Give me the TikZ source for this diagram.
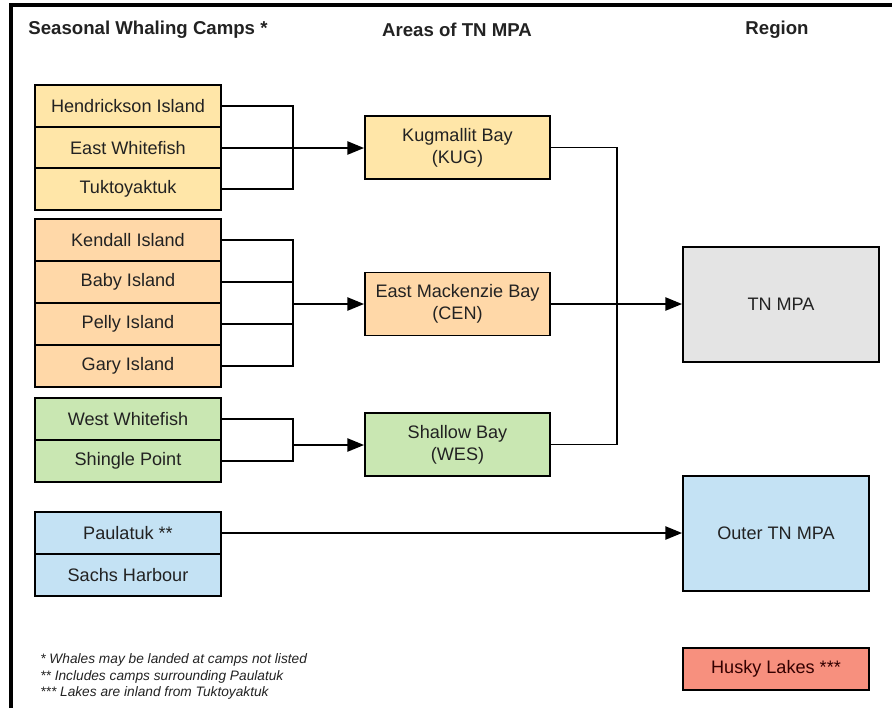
\documentclass[tikz,border=0pt]{standalone}
\usepackage{fontspec}
\setmainfont{Liberation Sans}
\usetikzlibrary{calc,arrows.meta,positioning}
\definecolor{campyel}{HTML}{FFE6A8}
\definecolor{camporg}{HTML}{FFD8A8}
\definecolor{campgrn}{HTML}{C9E7B2}
\definecolor{campblu}{HTML}{C4E2F4}
\definecolor{regngry}{HTML}{E4E4E4}
\definecolor{lakered}{HTML}{F7907E}
\definecolor{inktxt}{HTML}{222222}

\tikzset{
  campbox/.style={draw=black, line width=1.1pt, minimum width=3.72cm, minimum height=0.84cm,
    inner sep=0pt, text=inktxt, font=\fontsize{10.3}{12.4}\selectfont},
  areabox/.style={draw=black, line width=1.1pt, minimum width=3.7cm, minimum height=1.26cm,
    inner sep=0pt, align=center, text=inktxt, font=\fontsize{10.3}{12.4}\selectfont},
  regbox/.style={draw=black, line width=1.1pt, minimum height=2.3cm,
    inner sep=0pt, text=inktxt, font=\fontsize{10.3}{12.4}\selectfont},
  headtxt/.style={font=\bfseries\fontsize{10.6}{12.6}\selectfont, text=inktxt},
  notetxt/.style={font=\itshape\fontsize{7.8}{9.4}\selectfont, text=inktxt, anchor=west, inner sep=0pt},
  link/.style={line width=1.05pt, draw=black},
  linkarr/.style={link, -{Triangle[length=9.5pt,width=7.5pt]}}
}

\begin{document}
\begin{tikzpicture}[x=0.02cm, y=-0.02cm]
            %frame and page size
            \useasboundingbox (0,0) rectangle (892,708);
            \draw [line width=2.2pt] (11,708) -- (11,5) -- (892,5);

            %column titles
            \node [headtxt] (hcamp) at (148,30) {Seasonal Whaling Camps *};
            \node [headtxt] (harea) at (457,30) {Areas of TN MPA};
            \node [headtxt] (hregn) at (777,30) {Region};

            %whaling camps
            \node [campbox, fill=campyel] (hend) at (128,106) {Hendrickson Island};
            \node [campbox, fill=campyel] (eastwf) at (128,148) {East Whitefish};
            \node [campbox, fill=campyel] (tuk) at (128,189) {Tuktoyaktuk};

            \node [campbox, fill=camporg] (kend) at (128,240) {Kendall Island};
            \node [campbox, fill=camporg] (baby) at (128,282) {Baby Island};
            \node [campbox, fill=camporg] (pelly) at (128,324) {Pelly Island};
            \node [campbox, fill=camporg] (gary) at (128,366) {Gary Island};

            \node [campbox, fill=campgrn] (westwf) at (128,419) {West Whitefish};
            \node [campbox, fill=campgrn] (shingle) at (128,461) {Shingle Point};

            \node [campbox, fill=campblu] (paul) at (128,533) {Paulatuk **};
            \node [campbox, fill=campblu] (sachs) at (128,575) {Sachs Harbour};

            %areas
            \node [areabox, fill=campyel] (kug) at (457.5,147.5) {Kugmallit Bay\\(KUG)};
            \node [areabox, fill=camporg] (cen) at (457.5,304) {East Mackenzie Bay\\(CEN)};
            \node [areabox, fill=campgrn] (wes) at (457.5,444.5) {Shallow Bay\\(WES)};

            %regions
            \node [regbox, fill=regngry, minimum width=3.92cm] (tnmpa) at (781,304.5) {TN MPA};
            \node [regbox, fill=campblu, minimum width=3.72cm] (outer) at (776,533.5) {Outer TN MPA};
            \node [campbox, fill=lakered, text=black!80!red] (husky) at (776,669) {Husky Lakes ***};

            %joints
            \coordinate (jkug) at (293,148);
            \coordinate (jcen) at (293,304);
            \coordinate (jwes) at (293,445);
            \coordinate (jreg) at (617,304);

            \draw [link] (hend.east) -| (jkug) |- (tuk.east);
            \draw [linkarr] (eastwf.east) -- (eastwf.east -| kug.west);

            \draw [link] (kend.east) -| (jcen) |- (gary.east);
            \draw [link] (baby.east) -- (baby.east -| jcen);
            \draw [link] (pelly.east) -- (pelly.east -| jcen);
            \draw [linkarr] (jcen) -- (cen.west);

            \draw [link] (westwf.east) -| (jwes) |- (shingle.east);
            \draw [linkarr] (jwes) -- (jwes -| wes.west);

            \draw [link] (kug.east) -| (jreg) |- (wes.east);
            \draw [linkarr] (cen.east) -- (cen.east -| tnmpa.west);

            \draw [linkarr] (paul.east) -- (paul.east -| outer.west);

            %footnotes
            \node [notetxt] (note1) at (40,660) {* Whales may be landed at camps not listed};
            \node [notetxt] (note2) at (40,677) {** Includes camps surrounding Paulatuk};
            \node [notetxt] (note3) at (40,693) {*** Lakes are inland from Tuktoyaktuk};
\end{tikzpicture}
\end{document}
